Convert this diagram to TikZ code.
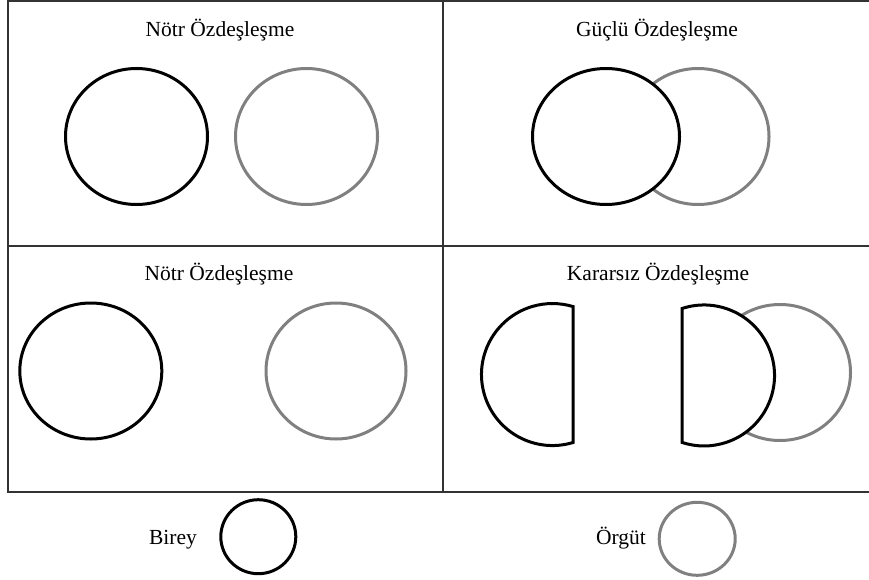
\documentclass[tikz,border=0pt]{standalone}
\usepackage{fontspec}
\setmainfont{Liberation Serif}
\begin{document}
\begin{tikzpicture}[x=1pt,y=-1pt,
		birey/.style={line width=3pt,draw=black,fill=white},
		orgut/.style={line width=3pt,draw=gray},
		cerceve/.style={line width=1.2pt,draw=black!80},
		baslik/.style={anchor=base,inner sep=0pt,font=\fontsize{21.5}{26}\selectfont}]
	\useasboundingbox (0,0) rectangle (869,580);
	% panels
	\draw[cerceve] (8,1) rectangle (871,492);
	\draw[cerceve] (8,246) -- (871,246);
	\draw[cerceve] (443,1) -- (443,492);
	% titles
	\node[baslik] (notrust) at (220,37) {Nötr Özdeşleşme};
	\node[baslik] (guclu) at (657,37) {Güçlü Özdeşleşme};
	\node[baslik] (notralt) at (219,280) {Nötr Özdeşleşme};
	\node[baslik] (kararsiz) at (658,280) {Kararsız Özdeşleşme};
	% top left
	\draw[birey] (136.5,136.5) ellipse[x radius=71,y radius=68];
	\draw[orgut] (306.5,136.5) ellipse[x radius=71,y radius=68];
	% top right
	\draw[orgut] (698,136.5) ellipse[x radius=71,y radius=68];
	\draw[birey] (606,136.5) ellipse[x radius=73.5,y radius=68];
	% bottom left
	\draw[birey] (90.8,371) ellipse[x radius=71,y radius=68];
	\draw[orgut] (336,371) ellipse[x radius=70,y radius=68];
	% bottom right
	\draw[birey] (573,442.5) arc[start angle=73.2,end angle=286.8,radius=71] -- cycle;
	\draw[orgut] (780,372.5) ellipse[x radius=70.5,y radius=68];
	\draw[birey] (682,308.5) arc[start angle=-108.2,end angle=108.2,radius=70.5] -- cycle;
	% legend
	\node[baslik] (lbirey) at (173,544) {Birey};
	\draw[birey] (258.3,536.7) ellipse[x radius=37.5,y radius=37];
	\node[baslik] (lorgut) at (621,544) {Örgüt};
	\draw[orgut] (697.2,538.8) ellipse[x radius=38,y radius=36.5];
\end{tikzpicture}
\end{document}
